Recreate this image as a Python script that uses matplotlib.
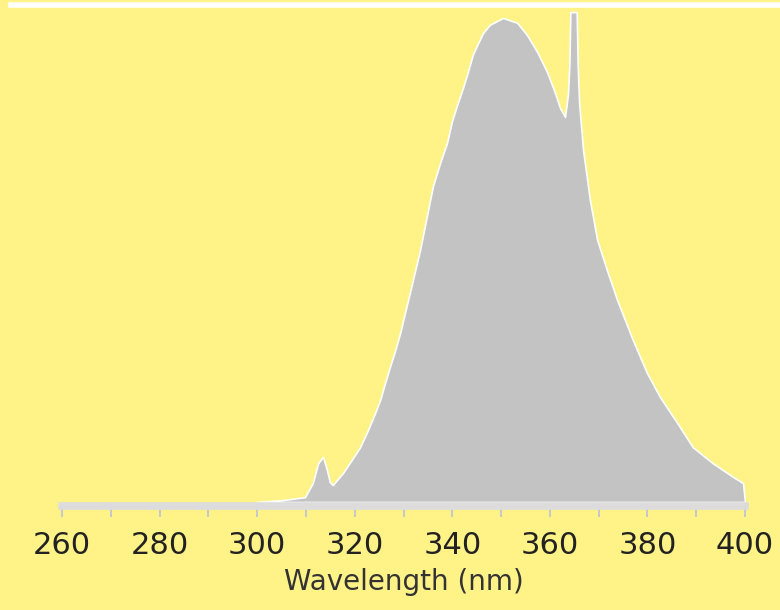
import matplotlib
matplotlib.use("Agg")
import matplotlib.pyplot as plt
from matplotlib.ticker import MultipleLocator
from matplotlib.lines import Line2D

# emission spectrum (relative intensity, peak = 1)
wavelength = [300.0, 305.3, 309.8, 311.4, 312.5, 313.5, 314.3, 314.9, 315.5, 317.6,
              319.4, 321.1, 322.7, 324.2, 325.2, 326.2, 327.2, 328.3, 329.3, 330.3,
              331.3, 333.4, 333.8, 334.8, 336.0, 337.5, 338.9, 339.9, 341.0, 342.2,
              343.2, 344.2, 345.1, 346.3, 347.7, 350.4, 353.3, 355.3, 357.4, 359.4,
              361.0, 362.1, 363.1, 363.7, 364.0, 364.2, 365.5, 365.7, 366.0, 366.8,
              368.2, 369.7, 371.7, 373.8, 377.0, 379.9, 382.6, 386.1, 389.3, 393.4,
              397.5, 399.6, 400.0]
intensity = [0.0, 0.004, 0.010, 0.039, 0.080, 0.093, 0.066, 0.041, 0.035, 0.060,
             0.087, 0.113, 0.148, 0.184, 0.210, 0.245, 0.278, 0.313, 0.348, 0.390,
             0.431, 0.520, 0.540, 0.590, 0.650, 0.699, 0.740, 0.784, 0.819, 0.854,
             0.887, 0.922, 0.942, 0.967, 0.984, 0.998, 0.988, 0.963, 0.928, 0.887,
             0.845, 0.812, 0.794, 0.840, 0.900, 1.010, 1.010, 0.900, 0.823, 0.726,
             0.623, 0.540, 0.478, 0.416, 0.334, 0.266, 0.216, 0.163, 0.113, 0.080,
             0.052, 0.039, 0.0]

major_ticks = [260, 280, 300, 320, 340, 360, 380, 400]

bg = '#fff388'
fig = plt.figure(figsize=(7.8, 6.1), dpi=100, facecolor=bg)
ax = fig.add_axes([62/780, 1 - 506/610, 683/780, 506/610])
ax.set_facecolor(bg)

ax.fill_between(wavelength, 0, intensity, color='#c3c3c3', edgecolor='white',
                linewidth=1.2)

ax.set_xlim(260, 400)
ax.set_ylim(-0.00825, 1.035)
ax.set_xticks(major_ticks)
ax.xaxis.set_minor_locator(MultipleLocator(10))

for s in ['top', 'left', 'right']:
    ax.spines[s].set_visible(False)
ax.spines['bottom'].set_color('#dcdcdc')
ax.spines['bottom'].set_linewidth(5.5)
ax.set_yticks([])

ax.tick_params(axis='x', which='both', direction='out', length=8, width=1.5,
               color='#c8c8c8', pad=10, labelsize=22, labelcolor='#222222')
ax.tick_params(axis='x', which='minor', labelbottom=False)
ax.set_xlabel('Wavelength (nm)', fontsize=20, color='#333333', labelpad=6)

# white rule along the top edge
fig.add_artist(Line2D([11/780, 1], [1 - 5/610, 1 - 5/610], color='white',
                      linewidth=4, transform=fig.transFigure))

fig.savefig('out.png', dpi=100, facecolor=bg)
